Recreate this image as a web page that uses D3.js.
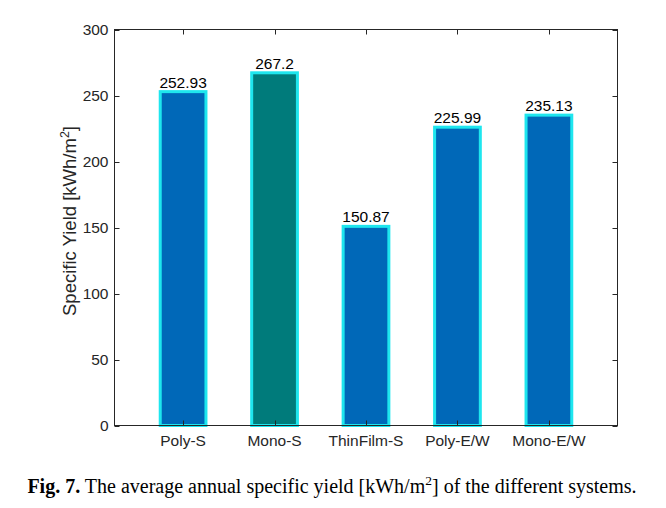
<!DOCTYPE html>
<html><head><meta charset="utf-8">
<script src="https://cdn.jsdelivr.net/npm/d3@7"></script>
<style>body{margin:0;background:#fff;} svg{display:block;}</style>
</head><body>
<svg id="c" width="666" height="508"></svg>
<script>
const categories = ["Poly-S","Mono-S","ThinFilm-S","Poly-E/W","Mono-E/W"];
const values = [252.93, 267.2, 150.87, 225.99, 235.13];
const labels = ["252.93","267.2","150.87","225.99","235.13"];
const barColors = ["#0068b8","#007b7b","#0068b8","#0068b8","#0068b8"];
const yTicks = [0,50,100,150,200,250,300];

const svg = d3.select("#c");
const L=114.5, R=617.5, T=29.5, B=425.5;
const x = d3.scaleLinear().domain([0.25,5.75]).range([L,R]);
const y = d3.scaleLinear().domain([0,300]).range([B,T]);
const bw = 0.5;
const font = "'Liberation Sans', Arial, sans-serif";

// bars
svg.selectAll("rect.bar").data(values).enter().append("rect")
  .attr("x",(d,i)=>x(i+1-bw/2)).attr("width",x(1+bw/2)-x(1-bw/2))
  .attr("y",d=>y(d)).attr("height",d=>y(0)-y(d))
  .attr("fill",(d,i)=>barColors[i]).attr("stroke","#1ee6ee").attr("stroke-width",3);

// box
const g = svg.append("g").attr("stroke","#262626").attr("stroke-width",1).attr("fill","none");
g.append("rect").attr("x",L).attr("y",T).attr("width",R-L).attr("height",B-T);
yTicks.forEach(t=>{
  const yy=Math.round(y(t))+0.5;
  g.append("line").attr("x1",L).attr("x2",L+5).attr("y1",yy).attr("y2",yy);
  g.append("line").attr("x1",R).attr("x2",R-5).attr("y1",yy).attr("y2",yy);
});
categories.forEach((c,i)=>{
  const xx=Math.round(x(i+1))+0.5;
  g.append("line").attr("x1",xx).attr("x2",xx).attr("y1",B).attr("y2",B-5);
  g.append("line").attr("x1",xx).attr("x2",xx).attr("y1",T).attr("y2",T+5);
});

// y tick labels
svg.selectAll("text.yt").data(yTicks).enter().append("text")
  .attr("x",L-6).attr("y",d=>y(d)).attr("dy","0.36em").attr("text-anchor","end")
  .attr("font-family",font).attr("font-size",15.5).attr("fill","#262626").text(d=>d);
// x tick labels
svg.selectAll("text.xt").data(categories).enter().append("text")
  .attr("x",(d,i)=>x(i+1)).attr("y",B+20).attr("text-anchor","middle")
  .attr("font-family",font).attr("font-size",15.5).attr("fill","#262626").text(d=>d);
// value labels
svg.selectAll("text.vl").data(values).enter().append("text")
  .attr("x",(d,i)=>x(i+1)).attr("y",d=>y(d)-4).attr("text-anchor","middle")
  .attr("font-family",font).attr("font-size",15.5).attr("fill","#000").text((d,i)=>labels[i]);

// y label
const yl = svg.append("text").attr("transform",`translate(76,221) rotate(-90)`)
  .attr("text-anchor","middle").attr("font-family",font).attr("font-size",18.5).attr("fill","#262626");
yl.append("tspan").text("Specific Yield [kWh/m");
yl.append("tspan").attr("dy",-7).attr("font-size",12.5).text("2");
yl.append("tspan").attr("dy",7).text("]");

// caption
const cap = svg.append("text").attr("x",332).attr("y",493).attr("text-anchor","middle")
  .attr("font-family","'Liberation Serif','Times New Roman',serif").attr("font-size",20).attr("fill","#000");
cap.append("tspan").attr("font-weight","bold").text("Fig. 7.");
cap.append("tspan").text(" The average annual specific yield [kWh/m");
cap.append("tspan").attr("dy",-8).attr("font-size",13.5).text("2");
cap.append("tspan").attr("dy",8).text("] of the different systems.");
</script>
</body></html>
